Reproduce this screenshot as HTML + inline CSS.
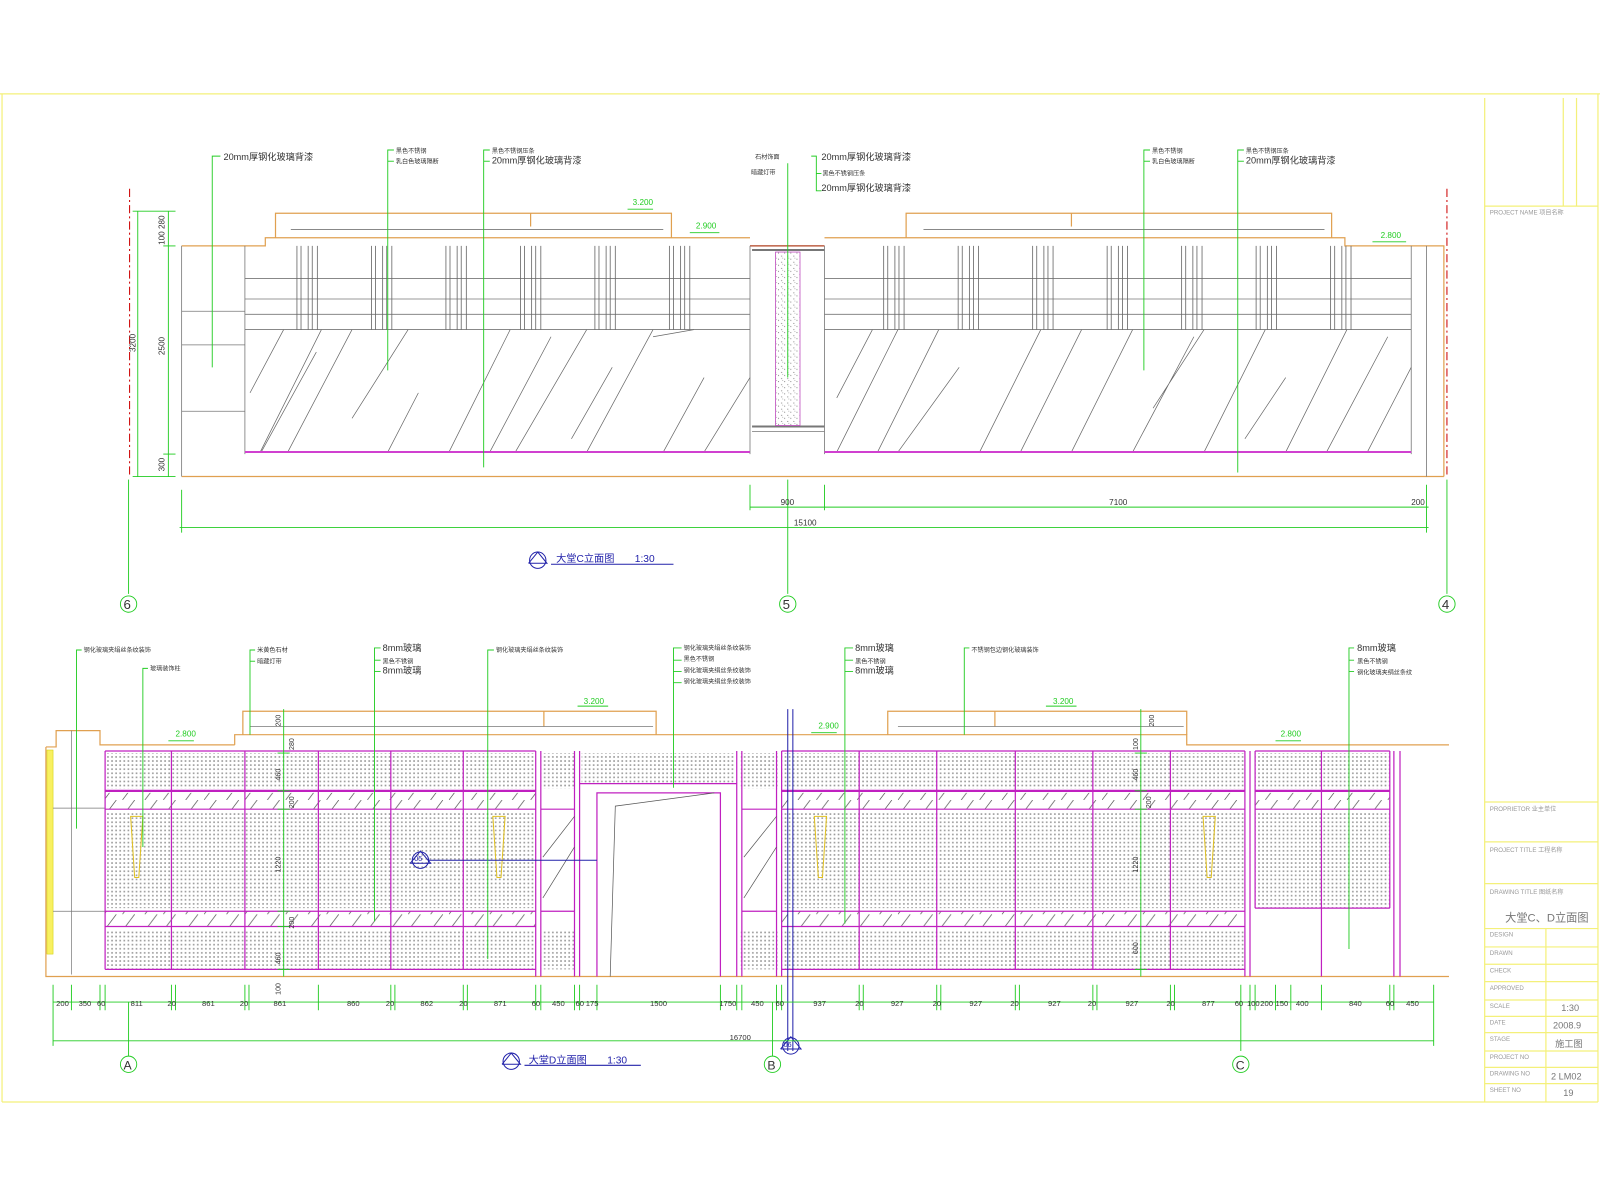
<!DOCTYPE html>
<html><head><meta charset="utf-8"><style>
html,body{margin:0;padding:0;background:#fff;}
svg{display:block}
text{font-family:"Liberation Sans","Noto Sans CJK SC",sans-serif;}
</style></head><body>
<svg width="1600" height="1200" viewBox="0 0 1568 1176" xmlns="http://www.w3.org/2000/svg">
<defs>
<pattern id="dots" width="4" height="4" patternUnits="userSpaceOnUse"><rect x="1" y="1" width="1.6" height="1.6" fill="#9a9a9a"/></pattern>
<pattern id="hatch" width="40" height="16" patternUnits="userSpaceOnUse"><line x1="0" y1="16" x2="12" y2="0" stroke="#555" stroke-width="0.7"/><line x1="22" y1="16" x2="34" y2="0" stroke="#555" stroke-width="0.7"/></pattern>
<pattern id="speck" width="6" height="6" patternUnits="userSpaceOnUse"><circle cx="1" cy="2" r="0.5" fill="#666"/><circle cx="4" cy="5" r="0.5" fill="#666"/><circle cx="5" cy="1" r="0.4" fill="#888"/></pattern>
</defs>
<rect width="1568" height="1176" fill="#fff"/>
<!-- frame -->
<g stroke="#f4f07a" stroke-width="1.2" fill="none">
<line x1="0" y1="92" x2="1568" y2="92"/><line x1="2" y1="92" x2="2" y2="1080"/><line x1="2" y1="1080" x2="1566" y2="1080"/>
<line x1="1455" y1="96" x2="1455" y2="1080"/><line x1="1566" y1="92" x2="1566" y2="1080"/>
<line x1="1455" y1="202" x2="1566" y2="202"/><line x1="1532" y1="96" x2="1532" y2="202"/><line x1="1545" y1="96" x2="1545" y2="202"/>
<line x1="1455" y1="786" x2="1566" y2="786"/><line x1="1455" y1="825" x2="1566" y2="825"/><line x1="1455" y1="866" x2="1566" y2="866"/>
<line x1="1455" y1="910" x2="1566" y2="910"/><line x1="1515" y1="910" x2="1515" y2="1080"/>
<line x1="1455" y1="928" x2="1566" y2="928"/><line x1="1455" y1="945" x2="1566" y2="945"/><line x1="1455" y1="962" x2="1566" y2="962"/><line x1="1455" y1="980" x2="1566" y2="980"/><line x1="1455" y1="996" x2="1566" y2="996"/><line x1="1455" y1="1012" x2="1566" y2="1012"/><line x1="1455" y1="1030" x2="1566" y2="1030"/><line x1="1455" y1="1046" x2="1566" y2="1046"/><line x1="1455" y1="1062" x2="1566" y2="1062"/>
</g>
<g fill="#999" font-size="6">
<text x="1460" y="210">PROJECT NAME 项目名称</text><text x="1460" y="795">PROPRIETOR 业主单位</text><text x="1460" y="835">PROJECT TITLE 工程名称</text><text x="1460" y="876">DRAWING TITLE 图纸名称</text>
<text x="1460" y="918">DESIGN</text><text x="1460" y="936">DRAWN</text><text x="1460" y="953">CHECK</text><text x="1460" y="970">APPROVED</text><text x="1460" y="988">SCALE</text><text x="1460" y="1004">DATE</text><text x="1460" y="1020">STAGE</text><text x="1460" y="1038">PROJECT NO</text><text x="1460" y="1054">DRAWING NO</text><text x="1460" y="1070">SHEET NO</text>
</g>
<g fill="#777" font-size="9"><text x="1475" y="903" font-size="11">大堂C、D立面图</text><text x="1530" y="991">1:30</text><text x="1522" y="1008">2008.9</text><text x="1524" y="1026">施工图</text><text x="1520" y="1058">2 LM02</text><text x="1532" y="1074">19</text></g>

<!-- ================= UPPER ELEVATION ================= -->
<g stroke="#c00" stroke-width="1" stroke-dasharray="8,3,2,3"><line x1="127" y1="185" x2="127" y2="467"/><line x1="1418" y1="185" x2="1418" y2="467"/></g>
<g stroke="#e0a050" stroke-width="1.2" fill="none">
<polyline points="178,241 260,241 260,233 735,233"/>
<polyline points="808,233 1318,233 1318,241 1415,241 1415,467"/>
<line x1="178" y1="467" x2="1415" y2="467"/>
<polyline points="270,233 270,209 658,209 658,233"/><line x1="520" y1="209" x2="520" y2="222"/>
<polyline points="888,233 888,209 1305,209 1305,233"/><line x1="1050" y1="209" x2="1050" y2="222"/>
<line x1="735" y1="241" x2="808" y2="241" stroke="#b04020"/>
</g>
<g stroke="#777" stroke-width="0.8" fill="none">
<line x1="285" y1="225" x2="650" y2="225"/><line x1="905" y1="225" x2="1298" y2="225"/>
<line x1="178" y1="241" x2="178" y2="467"/><line x1="1398" y1="241" x2="1398" y2="467"/>
<line x1="240" y1="273" x2="735" y2="273"/><line x1="240" y1="293" x2="735" y2="293"/><line x1="240" y1="308" x2="735" y2="308"/><line x1="240" y1="323" x2="735" y2="323"/>
<line x1="808" y1="273" x2="1383" y2="273"/><line x1="808" y1="293" x2="1383" y2="293"/><line x1="808" y1="308" x2="1383" y2="308"/><line x1="808" y1="323" x2="1383" y2="323"/>
<line x1="178" y1="305" x2="240" y2="305"/><line x1="178" y1="338" x2="240" y2="338"/><line x1="178" y1="403" x2="240" y2="403"/>
<line x1="240" y1="241" x2="240" y2="445"/><line x1="735" y1="241" x2="735" y2="445"/><line x1="808" y1="241" x2="808" y2="445"/><line x1="1383" y1="241" x2="1383" y2="445"/>
<line x1="737" y1="245" x2="808" y2="245" stroke-width="2"/><line x1="737" y1="418" x2="808" y2="418" stroke-width="2"/><line x1="737" y1="423" x2="808" y2="423"/>
</g>
<g stroke="#666" stroke-width="0.8" fill="none">
<path d="M291 241v82M295 241v82M302 241v82M306 241v82M311 241v82 M364 241v82M368 241v82M375 241v82M379 241v82M384 241v82 M437 241v82M441 241v82M448 241v82M452 241v82M457 241v82 M510 241v82M514 241v82M521 241v82M525 241v82M530 241v82 M583 241v82M587 241v82M594 241v82M598 241v82M603 241v82 M656 241v82M660 241v82M667 241v82M671 241v82M676 241v82"/>
<path d="M866 241v82M870 241v82M877 241v82M881 241v82M886 241v82 M939 241v82M943 241v82M950 241v82M954 241v82M959 241v82 M1012 241v82M1016 241v82M1023 241v82M1027 241v82M1032 241v82 M1085 241v82M1089 241v82M1096 241v82M1100 241v82M1105 241v82 M1158 241v82M1162 241v82M1169 241v82M1173 241v82M1178 241v82 M1231 241v82M1235 241v82M1242 241v82M1246 241v82M1251 241v82 M1304 241v82M1308 241v82M1315 241v82M1319 241v82M1324 241v82"/>
<path stroke-width="0.7" d="M245 385L278 323M255 443L315 323M282 443L345 323M380 443L410 385M440 443L500 323M480 443L540 330M505 443L575 323M560 430L600 360M575 443L640 323M650 443L690 370M690 443L735 370M345 410L400 323M640 330L680 323M256 443L310 345"/>
<path stroke-width="0.7" d="M820 443L880 323M860 443L920 323M880 443L940 360M960 443L1020 323M1000 443L1060 323M1050 443L1110 323M1110 443L1170 330M1130 400L1180 323M1180 443L1240 323M1220 430L1260 370M1260 443L1320 323M1300 443L1360 330M1340 443L1383 360M820 390L855 323"/>
</g>
<line x1="240" y1="443" x2="735" y2="443" stroke="#d040d0" stroke-width="2"/><line x1="808" y1="443" x2="1383" y2="443" stroke="#d040d0" stroke-width="2"/>
<rect x="760" y="247" width="24" height="170" fill="url(#speck)" stroke="#c050c0" stroke-width="0.8"/>
<!-- upper dims -->
<g stroke="#2c2" stroke-width="0.9" fill="none">
<line x1="135" y1="207" x2="135" y2="467"/><line x1="165" y1="207" x2="165" y2="467"/>
<line x1="130" y1="207" x2="172" y2="207"/><line x1="160" y1="241" x2="172" y2="241"/><line x1="160" y1="445" x2="172" y2="445"/><line x1="130" y1="467" x2="172" y2="467"/>
<line x1="178" y1="480" x2="178" y2="522"/><line x1="735" y1="475" x2="735" y2="500"/><line x1="808" y1="475" x2="808" y2="500"/><line x1="1398" y1="475" x2="1398" y2="522"/>
<line x1="735" y1="497" x2="1400" y2="497"/><line x1="176" y1="517" x2="1400" y2="517"/>
<line x1="126" y1="470" x2="126" y2="582"/><line x1="772" y1="470" x2="772" y2="582"/><line x1="1418" y1="470" x2="1418" y2="582"/>
<polyline points="208,360 208,153 216,153"/><polyline points="380,363 380,147 386,147"/><line x1="380" y1="158" x2="386" y2="158"/>
<polyline points="474,458 474,147 480,147"/><line x1="474" y1="158" x2="480" y2="158"/>
<polyline points="795,153 800,153 800,187 805,187"/><line x1="800" y1="170" x2="805" y2="170"/><line x1="772" y1="160" x2="772" y2="370"/>
<polyline points="1121,363 1121,147 1127,147"/><line x1="1121" y1="158" x2="1127" y2="158"/>
<polyline points="1213,463 1213,147 1219,147"/><line x1="1213" y1="158" x2="1219" y2="158"/>
<polyline points="615,205 640,205"/><polyline points="676,228 705,228"/><polyline points="1345,237 1378,237"/>
<circle cx="126" cy="592" r="8"/><circle cx="772" cy="592" r="8"/><circle cx="1418" cy="592" r="8"/>
</g>
<g fill="#2c2" font-size="8"><text x="620" y="201">3.200</text><text x="682" y="224">2.900</text><text x="1353" y="233">2.800</text></g>
<g fill="#333" font-size="8">
<text transform="translate(161,240) rotate(-90)">100 280</text><text transform="translate(133,345) rotate(-90)">3200</text><text transform="translate(161,348) rotate(-90)">2500</text><text transform="translate(161,462) rotate(-90)">300</text>
<text x="765" y="495">900</text><text x="1087" y="495">7100</text><text x="1383" y="495">200</text><text x="778" y="515">15100</text>
<text x="219" y="157" font-size="9">20mm厚钢化玻璃背漆</text><text x="388" y="150" font-size="6">黑色不锈钢</text><text x="388" y="160" font-size="6">乳白色玻璃隔断</text>
<text x="482" y="150" font-size="6">黑色不锈钢压条</text><text x="482" y="160" font-size="9">20mm厚钢化玻璃背漆</text>
<text x="740" y="156" font-size="6">石材饰面</text><text x="736" y="171" font-size="6">暗藏灯带</text>
<text x="805" y="157" font-size="9">20mm厚钢化玻璃背漆</text><text x="806" y="172" font-size="6">黑色不锈钢压条</text><text x="805" y="187" font-size="9">20mm厚钢化玻璃背漆</text>
<text x="1129" y="150" font-size="6">黑色不锈钢</text><text x="1129" y="160" font-size="6">乳白色玻璃隔断</text>
<text x="1221" y="150" font-size="6">黑色不锈钢压条</text><text x="1221" y="160" font-size="9">20mm厚钢化玻璃背漆</text>
<text x="121" y="597" font-size="13">6</text><text x="767" y="597" font-size="13">5</text><text x="1413" y="597" font-size="13">4</text>
</g>
<g stroke="#22a" fill="none"><circle cx="527" cy="549" r="8"/><polyline points="518,552 527,541 536,552 518,552"/><line x1="540" y1="553" x2="660" y2="553"/></g>
<text x="545" y="551" font-size="10" fill="#22a">大堂C立面图　　1:30</text>

<!-- ================= LOWER ELEVATION ================= -->
<g stroke="#e0a050" stroke-width="1.2" fill="none">
<polyline points="45,732 45,957 1420,957"/>
<polyline points="45,732 55,732 55,716 98,716 98,730 230,730"/>
<polyline points="238,720 238,697 643,697 643,720"/><line x1="533" y1="697" x2="533" y2="712"/>
<polyline points="870,720 870,697 1163,697 1163,720"/><line x1="975" y1="697" x2="975" y2="712"/>
<polyline points="230,730 230,720 1163,720 1163,730 1420,730"/>
</g>
<rect x="46" y="735" width="6" height="200" fill="#f8f060" stroke="#cc0" stroke-width="0.5"/>
<g stroke="#777" stroke-width="0.7" fill="none"><line x1="70" y1="716" x2="70" y2="955"/><line x1="52" y1="792" x2="103" y2="792"/><line x1="52" y1="893" x2="103" y2="893"/><line x1="245" y1="712" x2="640" y2="712"/><line x1="880" y1="712" x2="1160" y2="712"/></g>
<!-- panels -->
<g>
<rect x="103" y="738" width="422" height="35" fill="url(#dots)"/><rect x="103" y="777" width="422" height="16" fill="url(#hatch)"/>
<rect x="103" y="795" width="422" height="95" fill="url(#dots)"/><rect x="103" y="893" width="422" height="15" fill="url(#hatch)"/><rect x="103" y="911" width="422" height="39" fill="url(#dots)"/>
<rect x="766" y="738" width="454" height="35" fill="url(#dots)"/><rect x="766" y="777" width="454" height="16" fill="url(#hatch)"/>
<rect x="766" y="795" width="454" height="95" fill="url(#dots)"/><rect x="766" y="893" width="454" height="15" fill="url(#hatch)"/><rect x="766" y="911" width="454" height="39" fill="url(#dots)"/>
<rect x="1230" y="738" width="132" height="35" fill="url(#dots)"/><rect x="1230" y="777" width="132" height="16" fill="url(#hatch)"/><rect x="1230" y="795" width="132" height="95" fill="url(#dots)"/>
<rect x="530" y="738" width="34" height="35" fill="url(#dots)"/><rect x="570" y="738" width="150" height="30" fill="url(#dots)"/><rect x="726" y="738" width="36" height="35" fill="url(#dots)"/>
<rect x="530" y="911" width="34" height="39" fill="url(#dots)"/><rect x="726" y="911" width="36" height="39" fill="url(#dots)"/>
</g>
<g stroke="#c020c0" stroke-width="1.2" fill="none">
<path d="M103 736H525M103 775H525M103 793H525M103 893H525M103 908H525M103 950H525"/>
<path d="M766 736H1220M766 775H1220M766 793H1220M766 893H1220M766 908H1220M766 950H1220"/>
<path d="M1230 736H1362M1230 775H1362M1230 793H1362M1230 890H1362"/>
<path d="M103 736V950M168 736V950M240 736V950M312 736V950M383 736V950M454 736V950M525 736V957M530 736V957M563 736V957M568 736V957"/>
<path d="M722 736V957M727 736V957M761 736V957M766 736V957M842 736V950M918 736V950M995 736V950M1071 736V950M1147 736V950M1220 736V957M1225 736V957"/>
<path d="M1230 736V890M1295 736V890M1362 736V890M1366 736V957M1372 736V957M1295 890V957"/>
<path d="M568 768H722M585 957V777H706V957M530 793H563M530 893H563M727 793H761M727 893H761"/>
<path stroke-width="2.2" d="M103 775H525M766 775H1220M1230 775H1362"/>
</g>
<g stroke="#555" stroke-width="0.7" fill="none"><path d="M598 957L603 790L700 777M532 840L563 800M532 880L563 830M729 840L761 800M729 880L761 830"/></g>
<g stroke="#e0c020" stroke-width="1" fill="none"><path d="M128 800h12l-4 60h-4z"/><path d="M483 800h12l-4 60h-4z"/><path d="M798 800h12l-4 60h-4z"/><path d="M1179 800h12l-4 60h-4z"/></g>
<g stroke="#22a" stroke-width="1" fill="none"><line x1="772" y1="695" x2="772" y2="1030"/><line x1="777" y1="695" x2="777" y2="1030"/><line x1="420" y1="843" x2="585" y2="843"/><circle cx="412" cy="843" r="8"/><polyline points="402,846 412,834 422,846 402,846"/><circle cx="775" cy="1025" r="8"/><polyline points="765,1028 775,1016 785,1028 765,1028"/></g>
<g fill="#22a" font-size="7"><text x="406" y="844">05</text><text x="768" y="1026">06</text></g>
<!-- lower dims -->
<g stroke="#2c2" stroke-width="0.9" fill="none">
<line x1="52" y1="982" x2="1405" y2="982"/><line x1="52" y1="1020" x2="1405" y2="1020"/>
<path d="M52 965V1025M70 965V990M98 965V990M103 965V990M168 965V990M172 965V990M240 965V990M244 965V990M312 965V990M383 965V990M387 965V990M454 965V990M458 965V990M525 965V990M530 965V990M563 965V990M568 965V990M585 965V990M706 965V990M722 965V990M727 965V990M761 965V990M766 965V990M842 965V990M846 965V990M918 965V990M922 965V990M995 965V990M999 965V990M1071 965V990M1075 965V990M1147 965V990M1151 965V990M1216 965V1030M1225 965V990M1230 965V990M1250 965V990M1265 965V990M1295 965V990M1362 965V990M1366 965V990M1405 965V1025"/>
<line x1="126" y1="982" x2="126" y2="1035"/><line x1="757" y1="982" x2="757" y2="1035"/>
<line x1="278" y1="695" x2="278" y2="957"/><line x1="1118" y1="695" x2="1118" y2="957"/>
<path d="M272 738h12M272 775h12M272 793h12M272 893h12M272 908h12M272 950h12M1112 738h12M1112 775h12M1112 793h12M1112 950h12"/>
<polyline points="80,637 75,637 75,812"/><polyline points="145,655 140,655 140,830"/><polyline points="250,637 245,637 245,720"/><line x1="245" y1="648" x2="250" y2="648"/>
<polyline points="373,635 367,635 367,903"/><line x1="367" y1="647" x2="373" y2="647"/><line x1="367" y1="658" x2="373" y2="658"/>
<polyline points="484,637 478,637 478,940"/>
<polyline points="668,635 660,635 660,772"/><path d="M660 647h8M660 658h8M660 669h8"/>
<polyline points="836,635 828,635 828,905"/><path d="M828 647h8M828 658h8"/>
<polyline points="950,635 945,635 945,720"/>
<polyline points="1327,635 1322,635 1322,930"/><path d="M1322 647h5M1322 658h5"/>
<path d="M566 692h30M165 726h25M795 718h25M1250 726h25M1025 692h30"/>
<circle cx="126" cy="1043" r="8"/><circle cx="757" cy="1043" r="8"/><circle cx="1216" cy="1043" r="8"/>
</g>
<g fill="#2c2" font-size="8"><text x="572" y="690">3.200</text><text x="172" y="722">2.800</text><text x="802" y="714">2.900</text><text x="1255" y="722">2.800</text><text x="1032" y="690">3.200</text></g>
<g fill="#333" font-size="7.5">
<text x="55" y="986">200</text><text x="77" y="986">350</text><text x="95" y="986">60</text><text x="128" y="986">811</text><text x="164" y="986">20</text><text x="198" y="986">861</text><text x="235" y="986">20</text><text x="268" y="986">861</text>
<text x="340" y="986">860</text><text x="378" y="986">20</text><text x="412" y="986">862</text><text x="450" y="986">20</text><text x="484" y="986">871</text><text x="521" y="986">60</text><text x="541" y="986">450</text><text x="564" y="986">60</text><text x="574" y="986">175</text><text x="637" y="986">1500</text><text x="705" y="986">1750</text><text x="736" y="986">450</text><text x="760" y="986">60</text>
<text x="797" y="986">937</text><text x="838" y="986">20</text><text x="873" y="986">927</text><text x="914" y="986">20</text><text x="950" y="986">927</text><text x="990" y="986">20</text><text x="1027" y="986">927</text><text x="1066" y="986">20</text><text x="1103" y="986">927</text><text x="1143" y="986">20</text><text x="1178" y="986">877</text><text x="1210" y="986">60</text><text x="1222" y="986">100</text><text x="1235" y="986">200</text><text x="1250" y="986">150</text><text x="1270" y="986">400</text><text x="1322" y="986">840</text><text x="1358" y="986">60</text><text x="1378" y="986">450</text>
<text x="715" y="1019">16700</text>
<g font-size="7"><text transform="translate(275,712) rotate(-90)">200</text><text transform="translate(288,735) rotate(-90)">280</text><text transform="translate(275,765) rotate(-90)">460</text><text transform="translate(288,792) rotate(-90)">200</text><text transform="translate(275,855) rotate(-90)">1220</text><text transform="translate(288,910) rotate(-90)">200</text><text transform="translate(275,945) rotate(-90)">460</text><text transform="translate(275,975) rotate(-90)">100</text>
<text transform="translate(1115,735) rotate(-90)">100</text><text transform="translate(1131,712) rotate(-90)">200</text><text transform="translate(1115,765) rotate(-90)">460</text><text transform="translate(1128,792) rotate(-90)">200</text><text transform="translate(1115,855) rotate(-90)">1220</text><text transform="translate(1115,935) rotate(-90)">600</text></g>
<g font-size="6"><text x="82" y="639">钢化玻璃夹绢丝条纹装饰</text><text x="147" y="657">玻璃装饰柱</text><text x="252" y="639">米黄色石材</text><text x="252" y="650">暗藏灯带</text>
<text x="486" y="639">钢化玻璃夹绢丝条纹装饰</text><text x="670" y="637">钢化玻璃夹绢丝条纹装饰</text><text x="670" y="648">黑色不锈钢</text><text x="670" y="659">钢化玻璃夹绢丝条纹装饰</text><text x="670" y="670">钢化玻璃夹绢丝条纹装饰</text>
<text x="952" y="639">不锈钢包边钢化玻璃装饰</text><text x="838" y="650">黑色不锈钢</text><text x="375" y="650">黑色不锈钢</text><text x="1330" y="650">黑色不锈钢</text><text x="1330" y="661">钢化玻璃夹绢丝条纹</text></g>
<g font-size="9"><text x="375" y="638">8mm玻璃</text><text x="375" y="660">8mm玻璃</text><text x="838" y="638">8mm玻璃</text><text x="838" y="660">8mm玻璃</text><text x="1330" y="638">8mm玻璃</text></g>
<text x="121" y="1048" font-size="12">A</text><text x="752" y="1048" font-size="12">B</text><text x="1211" y="1048" font-size="12">C</text>
</g>
<g stroke="#22a" fill="none"><circle cx="501" cy="1040" r="8"/><polyline points="492,1043 501,1032 510,1043 492,1043"/><line x1="514" y1="1044" x2="628" y2="1044"/></g>
<text x="518" y="1042" font-size="10" fill="#22a">大堂D立面图　　1:30</text>
</svg>
</body></html>
